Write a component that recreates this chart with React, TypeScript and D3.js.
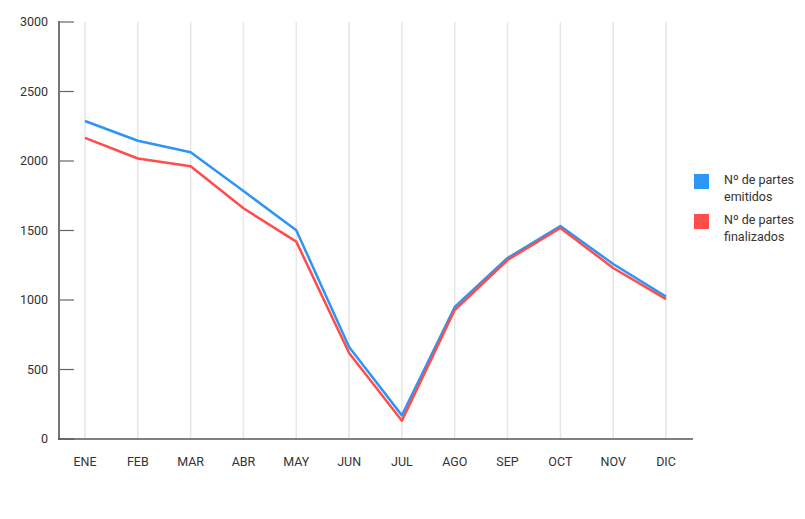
import React from "react";
import * as d3 from "d3";

const months = ["ENE", "FEB", "MAR", "ABR", "MAY", "JUN", "JUL", "AGO", "SEP", "OCT", "NOV", "DIC"];
const emitidos = [2288, 2146, 2063, 1784, 1502, 662, 170, 950, 1302, 1532, 1259, 1024];
const finalizados = [2166, 2018, 1962, 1660, 1420, 619, 132, 928, 1288, 1518, 1230, 1006];
const yTicks = [0, 500, 1000, 1500, 2000, 2500, 3000];
const seriesNames = [["Nº de partes", "emitidos"], ["Nº de partes", "finalizados"]];
const colors = ["#2d96f5", "#ff4c4c"];

export default function App() {
  const W = 805, H = 519;
  const x = d3.scalePoint<string>().domain(months).range([85, 666]);
  const y = d3.scaleLinear().domain([0, 3000]).range([439, 22]);
  const line = d3.line<number>().x((_, i) => x(months[i])!).y((d) => y(d));
  const font = "Roboto, sans-serif";
  return (
    <svg width={W} height={H} style={{ position: "absolute", left: 0, top: 0 }} fontFamily={font}>
      <rect width={W} height={H} fill="#fff" />
      {months.map((m) => (
        <line key={m} x1={x(m)} x2={x(m)} y1={22} y2={439} stroke="#e6e6e6" strokeWidth={1.5} />
      ))}
      {yTicks.map((t) => (
        <g key={t}>
          <line x1={59} x2={74} y1={y(t)} y2={y(t)} stroke="#666" strokeWidth={1.2} />
          <text x={48} y={y(t)} dy="0.35em" textAnchor="end" fontSize={12.5} fill="#333">{t}</text>
        </g>
      ))}
      <line x1={59} x2={59} y1={21} y2={440} stroke="#777" strokeWidth={2} />
      <line x1={58} x2={693} y1={439} y2={439} stroke="#555" strokeWidth={1.5} />
      {months.map((m) => (
        <text key={m} x={x(m)} y={466} textAnchor="middle" fontSize={12.5} fill="#333">{m}</text>
      ))}
      <path d={line(emitidos)!} fill="none" stroke={colors[0]} strokeWidth={2.5} strokeLinejoin="round" />
      <path d={line(finalizados)!} fill="none" stroke={colors[1]} strokeWidth={2.5} strokeLinejoin="round" />
      {seriesNames.map((names, i) => (
        <g key={i} transform={`translate(694, ${174 + i * 40})`}>
          <rect width={15} height={15} fill={colors[i]} />
          <text x={30} y={10} fontSize={12.5} fill="#333">{names[0]}</text>
          <text x={30} y={27} fontSize={12.5} fill="#333">{names[1]}</text>
        </g>
      ))}
    </svg>
  );
}
